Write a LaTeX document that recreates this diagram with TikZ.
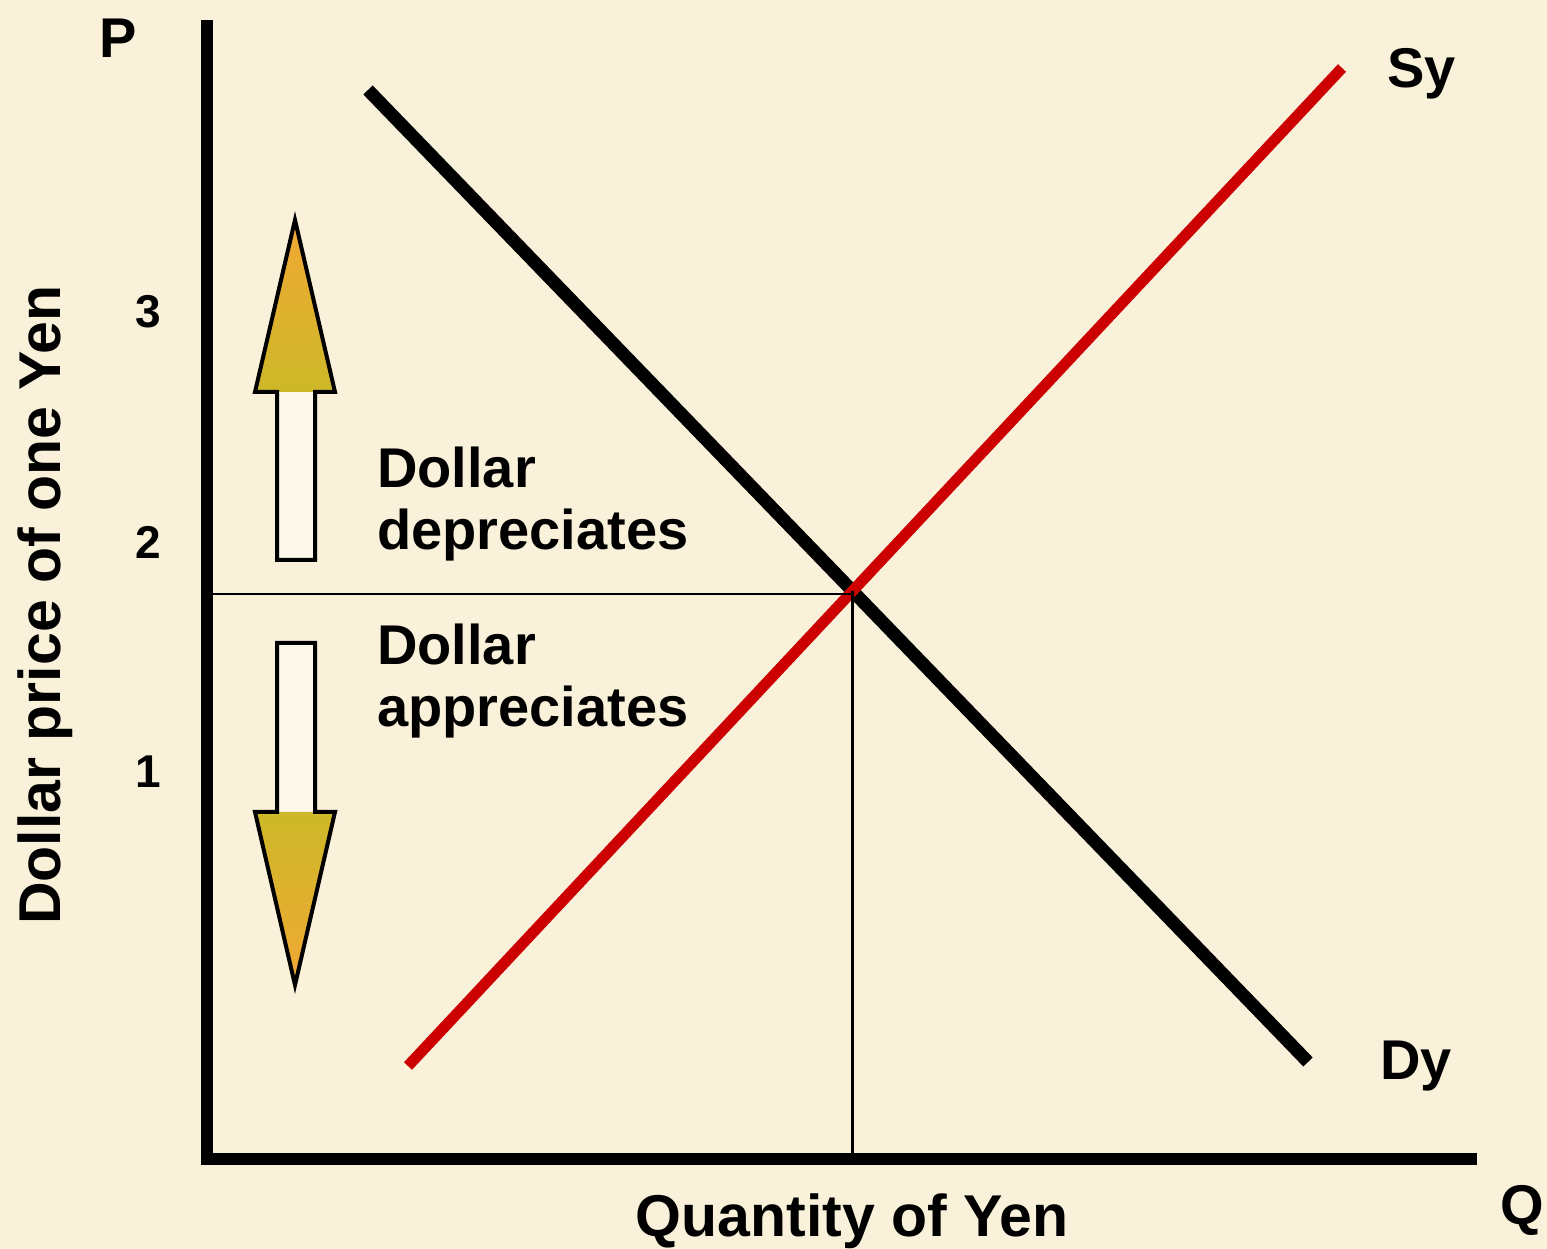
\documentclass[tikz,border=0pt]{standalone}
\usepackage{fontspec}
\setmainfont{Liberation Sans}
\usetikzlibrary{calc,intersections}
\definecolor{paper}{RGB}{250,241,218}
\definecolor{shaftcream}{RGB}{253,248,234}
\definecolor{supred}{RGB}{204,0,0}
\definecolor{tipor}{RGB}{242,168,52}
\definecolor{baseol}{RGB}{204,184,40}

\begin{document}
\begin{tikzpicture}[x=1pt,y=1pt,
  lab/.style={font=\fontsize{56}{62}\selectfont\bfseries,inner sep=0pt},
  axlab/.style={font=\fontsize{59}{62}\selectfont\bfseries,inner sep=0pt},
  tick/.style={font=\fontsize{46}{50}\selectfont\bfseries,inner sep=0pt},
  axis/.style={line width=12pt},
  curve/.style={line width=13pt},
  guide/.style={line width=2.8pt},
  shaft/.style={line width=4pt,line join=miter}]
% paper
\fill[paper] (0,0) rectangle (1547,1249);
\useasboundingbox (0,0) rectangle (1547,1249);
% axes
\coordinate (O) at (207,96);
\coordinate (Ytop) at (207,1229);
\coordinate (Xend) at (1477,96);
\draw[axis] (Ytop)--(O|-0,90)--(Xend|-0,90);
\node[lab] (P) at (118,1211) {P};
\node[lab,anchor=base] (Q) at (1522,24) {Q};
\node[axlab,anchor=base] (QL) at (852,12) {Quantity of Yen};
\node[axlab,rotate=90] (PL) at (45,644) {Dollar price of one Yen};
\node[tick] (t3) at (148,937) {3};
\node[tick] (t2) at (148,707) {2};
\node[tick] (t1) at (148,477) {1};
% demand and supply
\coordinate (D1) at (368,1159);
\coordinate (D2) at (1308,187);
\coordinate (S1) at (408,183);
\coordinate (S2) at (1342,1181);
\draw[curve,name path=dem] (D1)--(D2);
\draw[curve,line width=11pt,supred,name path=sup] (S1)--(S2);
\path[name intersections={of=dem and sup,by=E}];
\coordinate (Eq) at ($(E)+(0,-3)$);
\draw[guide] (Eq)--(O|-Eq);
\draw[guide] (E)--(E|-O);
\node[lab,anchor=base west] (Sy) at (1387,1161) {Sy};
\node[lab,anchor=base west] (Dy) at (1380,169) {Dy};
% dollar arrows
\fill[shaftcream] (277,689)--(277,857)--(315,857)--(315,689)--cycle;
\shade[top color=tipor,bottom color=baseol] (255,857)--(295,1029)--(335,857)--cycle;
\draw[shaft] (277,689)--(277,857)--(255,857)--(295,1029)--(335,857)--(315,857)--(315,689)--cycle;
\fill[shaftcream] (277,606)--(277,437)--(315,437)--(315,606)--cycle;
\shade[top color=baseol,bottom color=tipor] (255,437)--(295,264)--(335,437)--cycle;
\draw[shaft] (277,606)--(277,437)--(255,437)--(295,264)--(335,437)--(315,437)--(315,606)--cycle;
\node[lab,align=left,anchor=north west] (dep) at (377,802) {Dollar\\depreciates};
\node[lab,align=left,anchor=north west] (app) at (377,625) {Dollar\\appreciates};
\end{tikzpicture}
\end{document}
